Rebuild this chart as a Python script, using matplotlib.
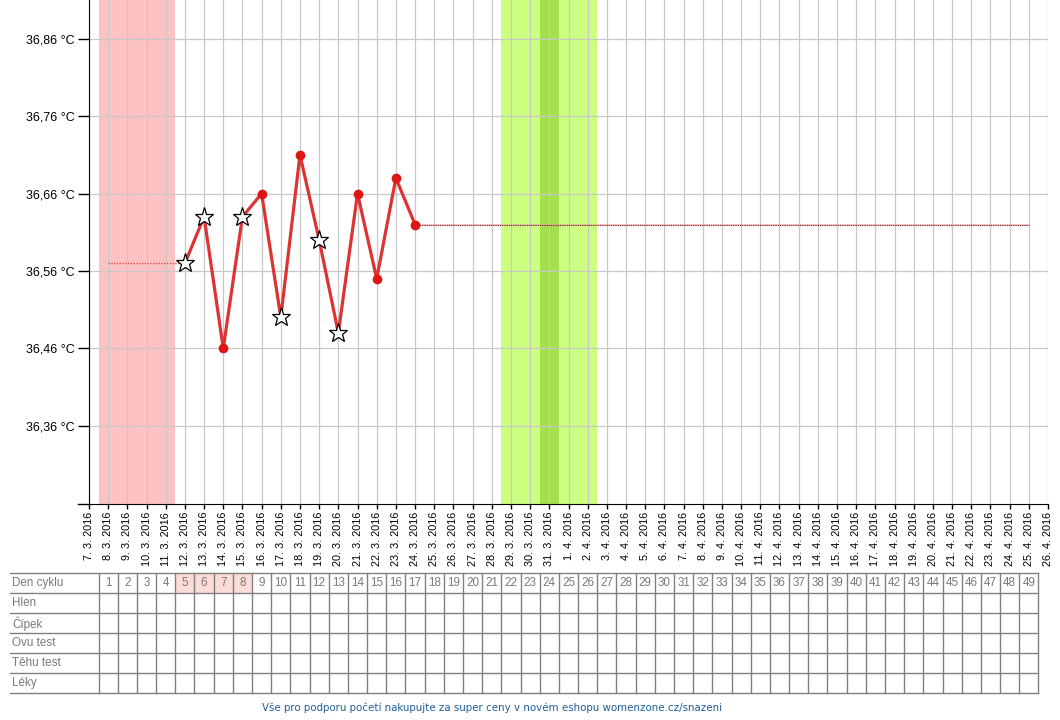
import matplotlib
matplotlib.use('Agg')
import matplotlib.pyplot as plt
import matplotlib.ticker as mticker
import pandas as pd

# ── Data ──────────────────────────────────────────────────────────────────────
START_DATE   = '2016-03-07'
N_DAYS       = 51                      # 7.3.2016 .. 26.4.2016
cycle_days   = list(range(1, 50))      # table header 1..49 (day 1 = 8.3.2016)

temp_days    = [5, 6, 7, 8, 9, 10, 11, 12, 13, 14, 15, 16, 17]
temps        = [36.57, 36.63, 36.46, 36.63, 36.66, 36.50, 36.71,
                36.60, 36.48, 36.66, 36.55, 36.68, 36.62]
disturbed    = [True, True, False, True, False, True, False,
                True, True, False, False, False, False]

pre_line_days  = [1, 5]
pre_line_temp  = 36.57
post_line_days = [17, 49]
post_line_temp = 36.62

period_days   = [1, 2, 3, 4]
fertile_days  = [22, 23, 24, 25, 26]
ovulation_day = [24]
marked_cells  = [5, 6, 7, 8]

y_ticks   = [36.36, 36.46, 36.56, 36.66, 36.76, 36.86]
row_names = ['Den cyklu', 'Hlen', 'Čípek', 'Ovu test', 'Těhu test', 'Léky']
footer    = 'Vše pro podporu početí nakupujte za super ceny v novém eshopu womenzone.cz/snazeni'

dates = pd.date_range(START_DATE, periods=N_DAYS, freq='D')
date_labels = [f'{d.day}. {d.month}. {d.year}' for d in dates]

# ── Style ─────────────────────────────────────────────────────────────────────
FONT       = 'Liberation Sans'
C_GRID     = '#c8c8c8'
C_TABLE    = '#808080'
C_TEXT_T   = '#7a7a7a'
C_LINE     = '#dd3333'
C_DOT      = '#dd1515'
C_PINK     = '#ffc2c2'
C_GREEN    = '#ccff80'
C_GREEN_D  = '#a3e04b'
C_CELL     = '#fcdcd6'

plt.rcParams.update({'font.family': FONT})

W, H = 1060, 720
fig = plt.figure(figsize=(W / 100, H / 100), dpi=100)
fig.patch.set_facecolor('white')

px_left, px_right, px_top, px_bottom = 89, 1048, 0, 504
ax = fig.add_axes([px_left / W, (H - px_bottom) / H,
                   (px_right - px_left) / W, (px_bottom - px_top) / H])
ax.set_xlim(0, N_DAYS - 1)
ax.set_ylim(36.259, 36.910)

for s in ('top', 'right'):
    ax.spines[s].set_visible(False)
ax.spines['left'].set_color('black')
ax.spines['bottom'].set_color('black')

# bands
for d in period_days:
    ax.axvspan(d - 0.5, d + 0.5, color=C_PINK, lw=0, zorder=0)
for d in fertile_days:
    ax.axvspan(d - 0.5, d + 0.5, color=C_GREEN, lw=0, zorder=0)
for d in ovulation_day:
    ax.axvspan(d - 0.5, d + 0.5, color=C_GREEN_D, lw=0, zorder=0.5)

# grid
ax.set_xticks(range(N_DAYS))
ax.set_xticklabels(date_labels, rotation=90, fontsize=7.8)
ax.set_yticks(y_ticks)
ax.yaxis.set_major_formatter(mticker.FuncFormatter(
    lambda v, _: f'{v:.2f}'.replace('.', ',') + ' °C'))
ax.tick_params(axis='y', length=8, width=1, pad=2, labelsize=9)
ax.tick_params(axis='x', length=3.6, width=1, pad=2)
ax.grid(True, color=C_GRID, lw=0.9, zorder=1)
ax.set_axisbelow(True)

# x axis line extends a bit left of the y axis
ax.plot([-0.57, 0], [ax.get_ylim()[0]] * 2, color='black', lw=1,
        clip_on=False, zorder=5)

# dotted guide lines
ax.plot(pre_line_days, [pre_line_temp] * 2, color='#e05050', lw=1,
        ls=(0, (1, 1)), zorder=2)
ax.plot(post_line_days, [post_line_temp] * 2, color='#f0a0a0', lw=1.4,
        alpha=0.6, zorder=2)
ax.plot(post_line_days, [post_line_temp] * 2, color='#6a2020', lw=0.8,
        ls=(0, (1, 1)), zorder=2)

# temperature curve
ax.plot(temp_days, temps, color=C_LINE, lw=2.3, zorder=3,
        solid_capstyle='round')
dx = [d for d, s in zip(temp_days, disturbed) if not s]
dy = [t for t, s in zip(temps, disturbed) if not s]
sx = [d for d, s in zip(temp_days, disturbed) if s]
sy = [t for t, s in zip(temps, disturbed) if s]
ax.plot(dx, dy, 'o', color=C_DOT, ms=7, mew=0, zorder=4)
ax.plot(sx, sy, '*', mfc='white', mec='black', mew=0.9, ms=14, zorder=4)

# ── Table ─────────────────────────────────────────────────────────────────────
t_top, t_bottom = 573, 693
tax = fig.add_axes([px_left / W, (H - t_bottom) / H,
                    (px_right - px_left) / W, (t_bottom - t_top) / H])
tax.set_xlim(0, N_DAYS - 1)
tax.set_ylim(len(row_names), 0)
tax.axis('off')

x_lab = (10 - px_left) / ((px_right - px_left) / (N_DAYS - 1))
x_end = cycle_days[-1] + 0.5

for d in marked_cells:
    tax.fill_between([d - 0.5, d + 0.5], 0, 1, color=C_CELL, lw=0, zorder=0)

for r in range(len(row_names) + 1):
    tax.plot([x_lab, x_end], [r, r], color=C_TABLE, lw=1, clip_on=False)
for d in cycle_days + [cycle_days[-1] + 1]:
    tax.plot([d - 0.5, d - 0.5], [0, len(row_names)], color=C_TABLE, lw=1,
             clip_on=False)

for r, name in enumerate(row_names):
    tax.text(x_lab + 0.12, r + 0.52, name, ha='left', va='center',
             fontsize=8.4, color=C_TEXT_T, clip_on=False)
for d in cycle_days:
    tax.text(d, 0.52, str(d), ha='center', va='center', fontsize=8.4,
             color=C_TEXT_T)

fig.text(492 / W, 1 - 708 / H, footer, ha='center', va='center',
         fontsize=7.4, color='#1f5f99', family='DejaVu Sans')

fig.savefig('out.png', dpi=100, facecolor='white')
